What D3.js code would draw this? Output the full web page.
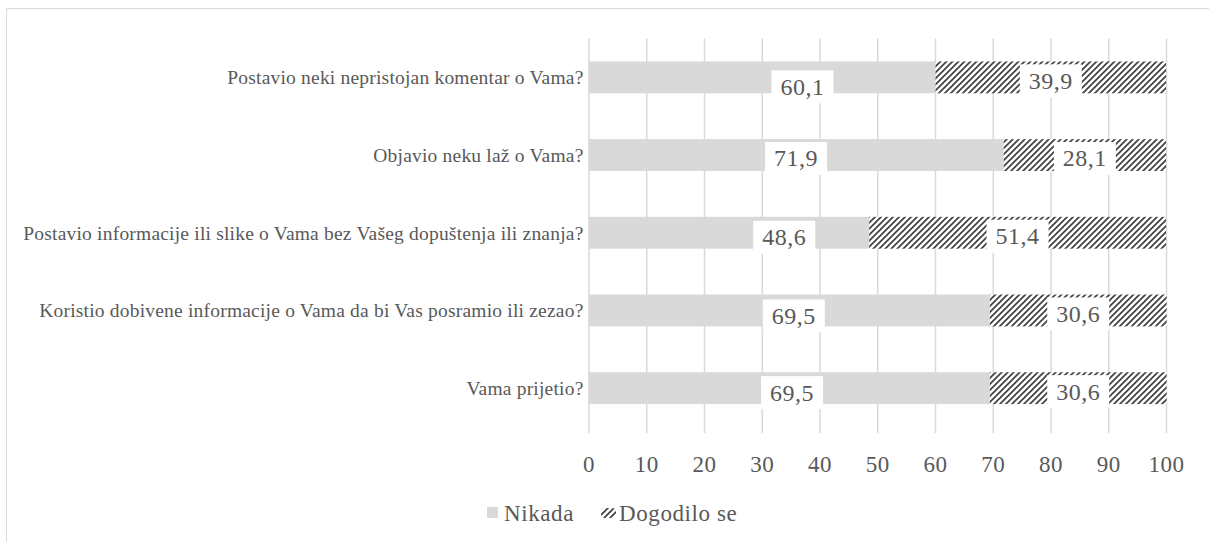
<!DOCTYPE html>
<html>
<head>
<meta charset="utf-8">
<script src="https://cdn.jsdelivr.net/npm/d3@7"></script>
<style>
  body { margin: 0; background: #fff; }
  text { font-family: "Liberation Serif", "DejaVu Serif", serif; fill: #595959; }
</style>
</head>
<body>
<script>
// chart data
var categories = [
    "Postavio neki nepristojan komentar o Vama?",
    "Objavio neku laž o Vama?",
    "Postavio informacije ili slike o Vama bez Vašeg dopuštenja ili znanja?",
    "Koristio dobivene informacije o Vama da bi Vas posramio ili zezao?",
    "Vama prijetio?"
];
var nikada = [60.1, 71.9, 48.6, 69.5, 69.5];
var dogodilo = [39.9, 28.1, 51.4, 30.6, 30.6];
var seriesNames = ["Nikada", "Dogodilo se"];
var xTicks = [0, 10, 20, 30, 40, 50, 60, 70, 80, 90, 100];

// some "Nikada" labels were dragged away from the bar centre in the original
var labelShift = [{dx: 7, dy: 6}, {dx: 0, dy: 0}, {dx: 9.6, dy: 1}, {dx: 0.8, dy: 2}, {dx: 0.5, dy: 1}];

var svgWidth = 1209;
var svgHeight = 542;
var plot = { left: 588.5, right: 1166, top: 38.5, bottom: 427 };

var svg = d3.select("body")
    .append("svg")
    .attr("width", svgWidth)
    .attr("height", svgHeight);

// hatch pattern for "Dogodilo se"
var defs = svg.append("defs");
var pat = defs.append("pattern")
    .attr("id", "hatch")
    .attr("patternUnits", "userSpaceOnUse")
    .attr("width", 6)
    .attr("height", 6);
pat.append("rect").attr("width", 6).attr("height", 6).attr("fill", "#fff");
pat.append("path")
    .attr("d", "M0,6 L6,0 M-1.5,1.5 L1.5,-1.5 M4.5,7.5 L7.5,4.5")
    .attr("stroke", "#404040")
    .attr("stroke-width", 1.7);

// chart border (only top and left are visible in the picture)
svg.append("path")
    .attr("d", "M6.5,542 L6.5,8.5 L1209,8.5")
    .attr("fill", "none")
    .attr("stroke", "#d9d9d9")
    .attr("stroke-width", 1);

var xScale = d3.scaleLinear()
    .domain([0, 100])
    .range([plot.left, plot.right]);

var yScale = d3.scaleBand()
    .domain(categories)
    .range([plot.top, plot.bottom])
    .padding(0);

var barH = yScale.bandwidth() * 0.41;

// vertical gridlines
svg.append("g")
    .attr("transform", `translate(0, ${plot.bottom + 6})`)
    .call(d3.axisBottom(xScale).tickValues(xTicks).tickSize(-(plot.bottom - plot.top + 6)).tickFormat(""))
    .call(g => g.select(".domain").remove())
    .call(g => g.selectAll("line").attr("stroke", "#d9d9d9").attr("stroke-width", 1.5));

// x tick labels
svg.append("g")
    .attr("transform", `translate(0, ${plot.bottom + 29})`)
    .call(d3.axisBottom(xScale).tickValues(xTicks).tickSize(0).tickPadding(0))
    .call(g => g.select(".domain").remove())
    .call(g => g.selectAll("text")
        .attr("font-size", 23)
        .attr("letter-spacing", 0.5)
        .attr("font-family", "Liberation Serif, serif")
        .attr("fill", "#595959"));

// category labels
svg.append("g").selectAll("text")
    .data(categories)
    .enter()
    .append("text")
    .attr("x", plot.left - 5)
    .attr("y", d => yScale(d) + yScale.bandwidth() / 2)
    .attr("dy", "0.35em")
    .attr("text-anchor", "end")
    .attr("font-size", 19.5)
    .attr("letter-spacing", 0.2)
    .text(d => d);

var rows = categories.map((c, i) => ({ cat: c, n: nikada[i], d: dogodilo[i], i: i }));

// Nikada bars
svg.append("g").selectAll("rect")
    .data(rows)
    .enter()
    .append("rect")
    .attr("x", xScale(0))
    .attr("y", d => yScale(d.cat) + (yScale.bandwidth() - barH) / 2)
    .attr("width", d => xScale(d.n) - xScale(0))
    .attr("height", barH)
    .attr("fill", "#d9d9d9");

// Dogodilo se bars
svg.append("g").selectAll("rect")
    .data(rows)
    .enter()
    .append("rect")
    .attr("x", d => xScale(d.n))
    .attr("y", d => yScale(d.cat) + (yScale.bandwidth() - barH) / 2)
    .attr("width", d => xScale(d.n + d.d) - xScale(d.n))
    .attr("height", barH)
    .attr("fill", "url(#hatch)");

// data labels with white boxes
function addLabel(g, x, y, txt) {
    var t = g.append("text")
        .attr("x", x)
        .attr("y", y)
        .attr("dy", "0.35em")
        .attr("text-anchor", "middle")
        .attr("font-size", 24)
        .attr("letter-spacing", 0.5)
        .text(txt);
    var w = t.node().getComputedTextLength();
    g.insert("rect", "text")
        .attr("x", x - w / 2 - 9)
        .attr("y", y - 16)
        .attr("width", w + 18)
        .attr("height", 33)
        .attr("fill", "#fff");
}

var fmt = v => String(v).replace(".", ",");

rows.forEach(function (r) {
    var cy = yScale(r.cat) + yScale.bandwidth() / 2;
    var s = labelShift[r.i];
    var g1 = svg.append("g");
    addLabel(g1, xScale(r.n / 2 + s.dx), cy + 3 + s.dy, fmt(r.n));
    var g2 = svg.append("g");
    addLabel(g2, xScale(r.n + r.d / 2), cy + 3, fmt(r.d));
});

// legend
var legend = svg.append("g");
legend.append("rect")
    .attr("x", 487).attr("y", 507)
    .attr("width", 11).attr("height", 11)
    .attr("fill", "#d9d9d9");
legend.append("text")
    .attr("x", 504).attr("y", 513)
    .attr("dy", "0.35em")
    .attr("font-size", 23)
    .attr("letter-spacing", 0.6)
    .text(seriesNames[0]);
legend.append("rect")
    .attr("x", 601).attr("y", 508)
    .attr("width", 15).attr("height", 10)
    .attr("rx", 4)
    .attr("fill", "url(#hatch)");
legend.append("text")
    .attr("x", 619).attr("y", 513)
    .attr("dy", "0.35em")
    .attr("font-size", 23)
    .attr("letter-spacing", 0.6)
    .text(seriesNames[1]);
</script>
</body>
</html>
